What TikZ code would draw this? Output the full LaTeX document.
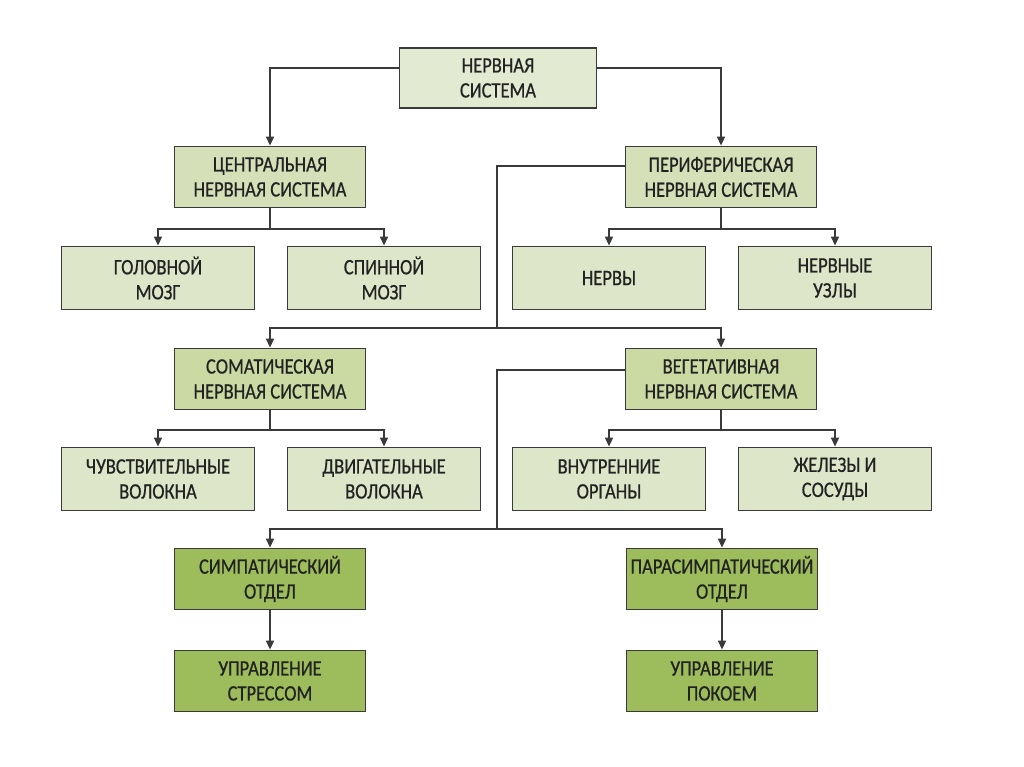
\documentclass[tikz,border=0pt]{standalone}
\usepackage{fontspec}
\setmainfont{Carlito}[FakeStretch=0.84,FakeBold=0.6]
\usetikzlibrary{arrows.meta}
\definecolor{cTop}{HTML}{E3EAD2}
\definecolor{cMid}{HTML}{D5E0B8}
\definecolor{cLeaf}{HTML}{DDE6C8}
\definecolor{cSub}{HTML}{CBDAA3}
\definecolor{cDark}{HTML}{9DBD5C}
\definecolor{cEdge}{HTML}{3A3A3A}
\definecolor{cText}{HTML}{222222}
\tikzset{
  boxbase/.style={draw=cEdge, line width=1.8pt, rectangle, minimum width=191pt, minimum height=61pt,
    align=center, font=\fontsize{22}{25}\selectfont, text=cText, inner sep=2pt},
  topbox/.style={boxbase, fill=cTop, minimum width=197pt, minimum height=60pt},
  midbox/.style={boxbase, fill=cMid},
  leafbox/.style={boxbase, fill=cLeaf, minimum width=193pt, minimum height=63pt},
  subbox/.style={boxbase, fill=cSub},
  darkbox/.style={boxbase, fill=cDark},
  conn/.style={draw=cEdge, line width=1.5pt},
  arr/.style={conn, -{Triangle[length=9pt,width=8pt]}}
}
\begin{document}
\begin{tikzpicture}[x=1pt,y=-1pt]
\useasboundingbox[fill=white] (0,0) rectangle (1024,767);
\node[topbox] (top) at (498,78) {НЕРВНАЯ\\СИСТЕМА};
\node[midbox] (cns) at (270,177) {ЦЕНТРАЛЬНАЯ\\НЕРВНАЯ СИСТЕМА};
\node[midbox] (pns) at (721,177) {ПЕРИФЕРИЧЕСКАЯ\\НЕРВНАЯ СИСТЕМА};
\node[leafbox] (gm) at (158,278) {ГОЛОВНОЙ\\МОЗГ};
\node[leafbox] (sm) at (384,278) {СПИННОЙ\\МОЗГ};
\node[leafbox] (nv) at (609,278) {НЕРВЫ};
\node[leafbox] (nu) at (835,278) {НЕРВНЫЕ\\УЗЛЫ};
\node[subbox] (som) at (270,379) {СОМАТИЧЕСКАЯ\\НЕРВНАЯ СИСТЕМА};
\node[subbox] (veg) at (721,379) {ВЕГЕТАТИВНАЯ\\НЕРВНАЯ СИСТЕМА};
\node[leafbox] (chv) at (158,479) {ЧУВСТВИТЕЛЬНЫЕ\\ВОЛОКНА};
\node[leafbox] (dv) at (384,479) {ДВИГАТЕЛЬНЫЕ\\ВОЛОКНА};
\node[leafbox] (vo) at (609,479) {ВНУТРЕННИЕ\\ОРГАНЫ};
\node[leafbox] (zs) at (835,479) {ЖЕЛЕЗЫ И\\СОСУДЫ};
\node[darkbox] (sim) at (270,579) {СИМПАТИЧЕСКИЙ\\ОТДЕЛ};
\node[darkbox] (par) at (722,579) {ПАРАСИМПАТИЧЕСКИЙ\\ОТДЕЛ};
\node[darkbox] (us) at (270,681) {УПРАВЛЕНИЕ\\СТРЕССОМ};
\node[darkbox] (up) at (722,681) {УПРАВЛЕНИЕ\\ПОКОЕМ};

% top level
\draw[arr] ([yshift=10pt]top.west) -| (cns.north);
\draw[arr] ([yshift=10pt]top.east) -| (pns.north);
% CNS
\coordinate (j1) at (270,229);
\draw[conn] (cns.south) -- (j1);
\draw[arr] (j1) -| (gm.north);
\draw[arr] (j1) -| (sm.north);
% PNS
\coordinate (j2) at (721,229);
\draw[conn] (pns.south) -- (j2);
\draw[arr] (j2) -| (nv.north);
\draw[arr] (j2) -| (nu.north);
% PNS -> somatic / vegetative
\coordinate (j3) at (497,328);
\draw[conn] ([yshift=11pt]pns.west) -| (j3);
\draw[arr] (j3) -| (som.north);
\draw[arr] (j3) -| (veg.north);
% somatic
\coordinate (j4) at (270,430);
\draw[conn] (som.south) -- (j4);
\draw[arr] (j4) -| (chv.north);
\draw[arr] (j4) -| (dv.north);
% vegetative
\coordinate (j5) at (721,430);
\draw[conn] (veg.south) -- (j5);
\draw[arr] (j5) -| (vo.north);
\draw[arr] (j5) -| (zs.north);
% vegetative -> divisions
\coordinate (j6) at (497,529);
\draw[conn] ([yshift=9pt]veg.west) -| (j6);
\draw[arr] (j6) -| (sim.north);
\draw[arr] (j6) -| (par.north);
% divisions -> control
\draw[arr] (sim.south) -- (us.north);
\draw[arr] (par.south) -- (up.north);
\end{tikzpicture}
\end{document}
